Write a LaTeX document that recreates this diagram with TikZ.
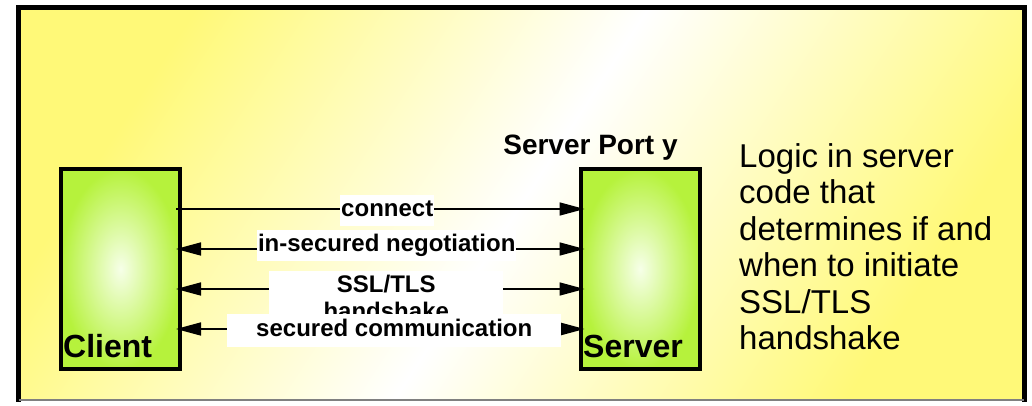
\documentclass[tikz,border=0pt]{standalone}
\usepackage{fontspec}
\setmainfont{Liberation Sans}
\usetikzlibrary{arrows.meta,positioning}
\definecolor{panelyellow}{RGB}{255,249,120}
\definecolor{hostgreen}{RGB}{182,242,60}
\definecolor{hostlight}{RGB}{246,255,232}
\tikzset{
    host/.style={draw=black, line width=4pt, outer sep=0pt, inner sep=0pt,
        minimum width=119pt, minimum height=200pt,
        shading=radial, inner color=hostlight, outer color=hostgreen},
    hostname/.style={anchor=base west, inner sep=0pt, font=\fontsize{32}{32}\selectfont\bfseries},
    msg/.style={line width=1.6pt, shorten <=-4pt, shorten >=-4pt},
    msglabel/.style={fill=white, inner xsep=1pt, inner ysep=1pt,
        font=\fontsize{24}{27}\selectfont\bfseries},
    oneline/.style={text height=21pt, text depth=8pt}
}
\begin{document}
\begin{tikzpicture}[x=1pt, y=1pt, >={Triangle[length=25pt,width=13pt]}]
    \useasboundingbox (0,0) rectangle (1032,406);

    \shade[left color=panelyellow, right color=panelyellow, middle color=white, shading angle=57]
        (18.5,6) rectangle (1024,398.5);
    \draw[line width=5pt, line cap=rect] (18.5,6) -- (18.5,398.5) -- (1024,398.5) -- (1024,6);
    \draw[gray, line width=1.5pt] (18.5,6) -- (1024,6);

    \node[host] (client) at (120.5,137) {};
    \node[host] (server) at (640,137) {};
    \node[hostname] (clientname) at ([xshift=2pt, yshift=11pt]client.south west) {Client};
    \node[hostname] (servername) at ([xshift=2.5pt, yshift=11pt]server.south west) {Server};
    \node[anchor=base, inner sep=0pt, font=\fontsize{28}{28}\selectfont\bfseries] (port)
        at ([xshift=-49.5pt, yshift=14pt]server.north) {Server Port y};

    \draw[msg, ->] ([yshift=60pt]client.east) -- node[msglabel, oneline, xshift=7pt, yshift=-1.5pt] (connect) {connect} ([yshift=60pt]server.west);
    \draw[msg, <->] ([yshift=20pt]client.east) -- node[msglabel, oneline, xshift=6.5pt, yshift=3.5pt] (nego) {in-secured negotiation} ([yshift=20pt]server.west);
    \draw[msg, <->] ([yshift=-20pt]client.east) -- node[msglabel, inner ysep=4pt, minimum width=234pt, align=center, xshift=6pt, yshift=-8pt] (hs) {SSL/TLS\\handshake} ([yshift=-20pt]server.west);
    \draw[msg, <->] ([yshift=-60pt]client.east) -- node[msglabel, oneline, inner ysep=2pt, minimum width=334pt, xshift=14pt, yshift=-1.5pt] (secure) {secured communication} ([yshift=-60pt]server.west);

    \node[anchor=north west, align=left, inner sep=0pt, font=\fontsize{33}{36.5}\selectfont] (logic)
        at (739,263) {Logic in server\\code that\\determines if and\\when to initiate\\SSL/TLS\\handshake};
\end{tikzpicture}
\end{document}
